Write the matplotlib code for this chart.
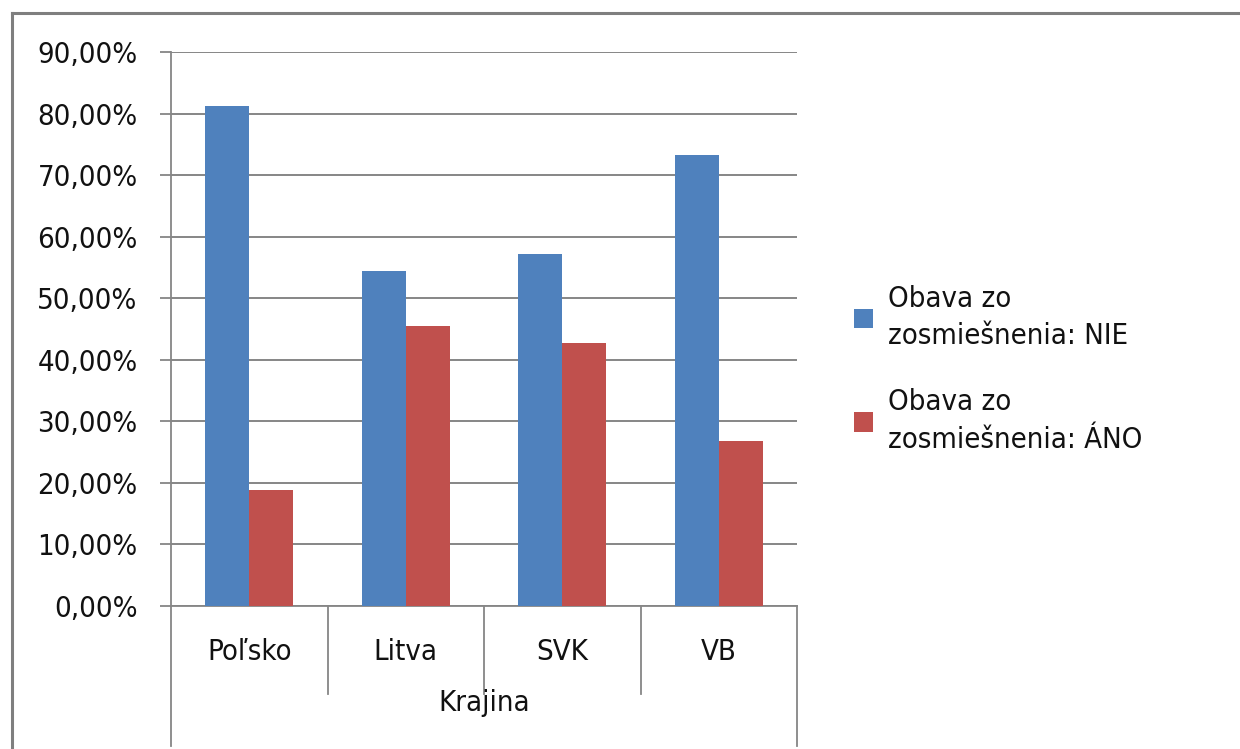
import matplotlib
matplotlib.use("Agg")
import matplotlib.pyplot as plt
from matplotlib.lines import Line2D
import numpy as np

# Data
countries = ["Poľsko", "Litva", "SVK", "VB"]
nie_values = [81.2, 54.4, 57.2, 73.2]
ano_values = [18.8, 45.5, 42.8, 26.8]
series_labels = ["Obava zo\nzosmiešnenia: NIE", "Obava zo\nzosmiešnenia: ÁNO"]
y_ticks = [0, 10, 20, 30, 40, 50, 60, 70, 80, 90]
y_tick_labels = ["0,00%", "10,00%", "20,00%", "30,00%", "40,00%",
                 "50,00%", "60,00%", "70,00%", "80,00%", "90,00%"]
axis_title = "Krajina"

BLUE = "#4F81BD"
RED = "#C0504D"
GRID = "#868686"
TEXT = "#111111"
FONT = dict(family="DejaVu Sans", stretch="condensed")
FS = 21

W, H = 1240, 749
fig = plt.figure(figsize=(W / 100, H / 100), dpi=100)
fig.patch.set_facecolor("white")

left, right, top, bottom = 171, 797, 52, 606
ax = fig.add_axes([left / W, 1 - bottom / H, (right - left) / W, (bottom - top) / H])

x = np.arange(len(countries))
bw = 0.28
b1 = ax.bar(x - bw / 2, nie_values, width=bw, color=BLUE, label=series_labels[0], zorder=3)
b2 = ax.bar(x + bw / 2, ano_values, width=bw, color=RED, label=series_labels[1], zorder=3)

ax.set_xlim(-0.5, len(countries) - 0.5)
ax.set_ylim(0, 90)

# value axis
ax.set_yticks(y_ticks)
ax.set_yticklabels(y_tick_labels, fontsize=FS, color=TEXT, **FONT)
ax.tick_params(axis="y", direction="out", length=8, width=1.3, color=GRID, pad=16)
ax.yaxis.grid(True, color=GRID, linewidth=1.4, zorder=0)

# category axis: labels centred, separators drawn below the axis
ax.set_xticks([])
trans = ax.get_xaxis_transform()
ah = bottom - top
for i, name in enumerate(countries):
    ax.text(i, -46 / ah, name, transform=trans, ha="center", va="center",
            fontsize=FS, color=TEXT, **FONT)
ax.text((len(countries) - 1) / 2, -97 / ah, axis_title, transform=trans,
        ha="center", va="center", fontsize=FS, color=TEXT, **FONT)

for b in np.arange(0.5, len(countries) - 0.5, 1.0):
    ax.add_line(Line2D([b, b], [0, -88 / ah], transform=trans, color=GRID,
                       linewidth=1.3, clip_on=False))
for b in (-0.5, len(countries) - 0.5):
    ax.add_line(Line2D([b, b], [0, -140 / ah], transform=trans, color=GRID,
                       linewidth=1.3, clip_on=False))

for side in ("top", "right"):
    ax.spines[side].set_visible(False)
ax.spines["left"].set_color(GRID)
ax.spines["left"].set_linewidth(1.3)
ax.spines["bottom"].set_color(GRID)
ax.spines["bottom"].set_linewidth(1.3)

# legend
leg = ax.legend(handles=[b1, b2], loc="upper left",
                bbox_to_anchor=(828 / W, 1 - 259 / H), bbox_transform=fig.transFigure,
                frameon=False, handlelength=0.65, handleheight=0.65, handletextpad=0.5,
                labelspacing=1.3, prop=dict(size=FS, **FONT))
for t in leg.get_texts():
    t.set_color(TEXT)
    t.set_linespacing(1.42)

# outer frame (top and left edges visible)
fig.add_artist(Line2D([12 / W, 1.0], [1 - 13 / H, 1 - 13 / H], transform=fig.transFigure,
                      color="#7f7f7f", linewidth=2.2))
fig.add_artist(Line2D([12 / W, 12 / W], [0.0, 1 - 13 / H], transform=fig.transFigure,
                      color="#7f7f7f", linewidth=2.2))

fig.savefig("out.png", dpi=100, facecolor="white")
